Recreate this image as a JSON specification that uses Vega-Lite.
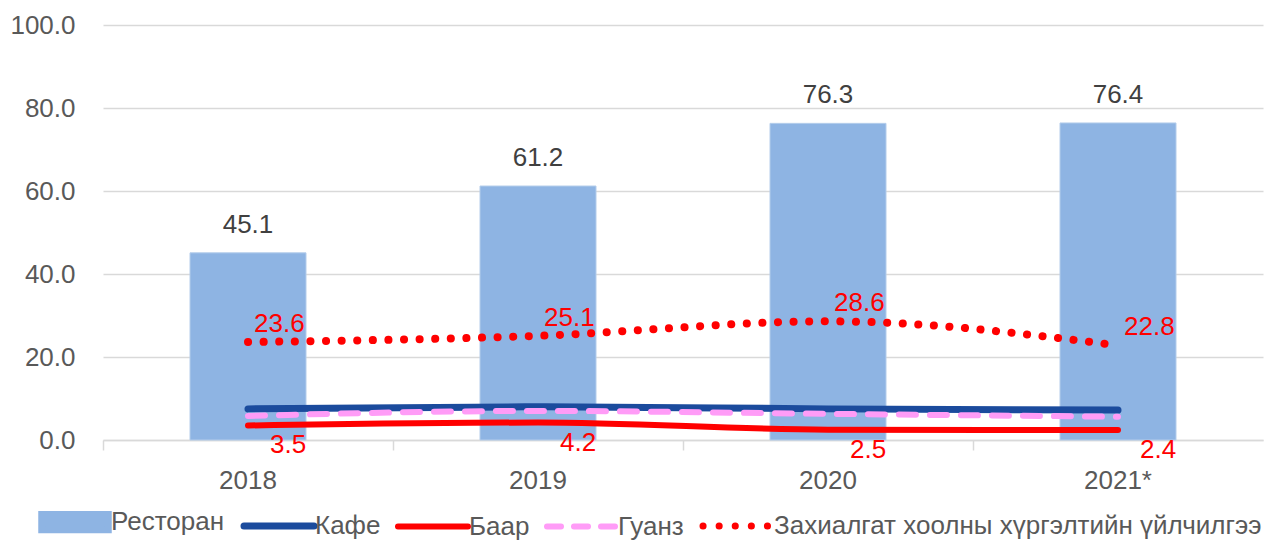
{
  "$schema": "https://vega.github.io/schema/vega-lite/v6.json",
  "autosize": "none",
  "width": 1160,
  "height": 415,
  "padding": {"left": 103, "top": 25, "right": 12, "bottom": 100},
  "background": "white",
  "config": {
    "view": {"stroke": null},
    "font": "Liberation Sans"
  },
  "data": {
    "values": [
      {"year": "2018", "series": "Ресторан", "value": 45.1},
      {"year": "2019", "series": "Ресторан", "value": 61.2},
      {"year": "2020", "series": "Ресторан", "value": 76.3},
      {"year": "2021*", "series": "Ресторан", "value": 76.4},
      {"year": "2018", "series": "Кафе", "value": 7.5},
      {"year": "2019", "series": "Кафе", "value": 8.0},
      {"year": "2020", "series": "Кафе", "value": 7.5},
      {"year": "2021*", "series": "Кафе", "value": 7.2},
      {"year": "2018", "series": "Баар", "value": 3.5},
      {"year": "2019", "series": "Баар", "value": 4.2},
      {"year": "2020", "series": "Баар", "value": 2.5},
      {"year": "2021*", "series": "Баар", "value": 2.4},
      {"year": "2018", "series": "Гуанз", "value": 5.8},
      {"year": "2019", "series": "Гуанз", "value": 7.0},
      {"year": "2020", "series": "Гуанз", "value": 6.3},
      {"year": "2021*", "series": "Гуанз", "value": 5.6},
      {"year": "2018", "series": "Захиалгат хоолны хүргэлтийн үйлчилгээ", "value": 23.6},
      {"year": "2019", "series": "Захиалгат хоолны хүргэлтийн үйлчилгээ", "value": 25.1},
      {"year": "2020", "series": "Захиалгат хоолны хүргэлтийн үйлчилгээ", "value": 28.6},
      {"year": "2021*", "series": "Захиалгат хоолны хүргэлтийн үйлчилгээ", "value": 22.8}
    ]
  },
  "encoding": {
    "x": {
      "field": "year",
      "type": "ordinal",
      "sort": ["2018", "2019", "2020", "2021*"],
      "scale": {"paddingInner": 0, "paddingOuter": 0},
      "axis": {
        "title": null,
        "labelAngle": 0,
        "labelFont": "Liberation Sans",
        "labelFontSize": 26,
        "labelColor": "#595959",
        "labelPadding": 17,
        "domainColor": "#D9D9D9",
        "domainWidth": 1.5,
        "tickColor": "#D9D9D9",
        "tickWidth": 1.5,
        "tickSize": 10,
        "bandPosition": 0,
        "grid": false
      }
    },
    "y": {
      "field": "value",
      "type": "quantitative",
      "scale": {"domain": [0, 100], "nice": false},
      "axis": {
        "title": null,
        "values": [0, 20, 40, 60, 80, 100],
        "format": ".1f",
        "labelFont": "Liberation Sans",
        "labelFontSize": 26,
        "labelColor": "#595959",
        "labelPadding": 28,
        "domain": false,
        "ticks": false,
        "gridColor": "#D9D9D9",
        "gridWidth": 1.5
      }
    },
    "color": {
      "field": "series",
      "type": "nominal",
      "scale": {
        "domain": ["Ресторан", "Кафе", "Баар", "Гуанз", "Захиалгат хоолны хүргэлтийн үйлчилгээ"],
        "range": ["#8EB4E3", "#1B4B9D", "#FF0000", "#FF9CF7", "#FF0000"]
      },
      "legend": {
        "title": null,
        "orient": "none",
        "legendX": -41,
        "legendY": 484,
        "direction": "horizontal",
        "columns": 5,
        "symbolType": "stroke",
        "symbolSize": 4900,
        "symbolStrokeWidth": 6,
        "labelFont": "Liberation Sans",
        "labelFontSize": 26,
        "labelColor": "#595959",
        "labelLimit": 700,
        "labelOffset": 23,
        "columnPadding": 5,
        "encode": {
          "symbols": {
            "update": {
              "shape": {"signal": "datum.value === 'Ресторан' ? 'M-0.95,-0.22H0.95V0.22H-0.95Z' : 'stroke'"},
              "fill": {"signal": "datum.value === 'Ресторан' ? '#8EB4E3' : 'transparent'"},
              "stroke": {"signal": "datum.value === 'Ресторан' ? 'transparent' : scale('color', datum.value)"},
              "strokeDash": {"signal": "datum.value === 'Гуанз' ? [14, 13] : (datum.value === 'Ресторан' || datum.value === 'Кафе' || datum.value === 'Баар') ? [1, 0] : [0.1, 16]"},
              "strokeCap": {"value": "round"},
              "strokeWidth": {"signal": "datum.value === 'Кафе' || datum.value === 'Ресторан' ? 7 : (datum.value === 'Баар' || datum.value === 'Гуанз') ? 6 : 7"},
              "opacity": {"value": 1}
            }
          }
        }
      }
    }
  },
  "layer": [
    {
      "transform": [{"filter": "datum.series === 'Ресторан'"}],
      "mark": {"type": "bar", "width": {"band": 0.4}, "stroke": "#B4CDEB", "strokeWidth": 1}
    },
    {
      "transform": [{"filter": "datum.series === 'Ресторан'"}],
      "mark": {"type": "text", "dy": -20, "baseline": "alphabetic", "font": "Liberation Sans", "fontSize": 26, "color": "#404040"},
      "encoding": {"text": {"field": "value", "format": ".1f"}, "color": {"value": "#404040"}}
    },
    {
      "transform": [{"filter": "datum.series === 'Кафе'"}],
      "mark": {"type": "line", "interpolate": "monotone", "strokeWidth": 7, "strokeCap": "round"}
    },
    {
      "transform": [{"filter": "datum.series === 'Баар'"}],
      "mark": {"type": "line", "interpolate": "monotone", "strokeWidth": 6, "strokeCap": "round"}
    },
    {
      "transform": [{"filter": "datum.series === 'Гуанз'"}],
      "mark": {"type": "line", "interpolate": "monotone", "strokeWidth": 6, "strokeCap": "round", "strokeDash": [17, 14]}
    },
    {
      "transform": [{"filter": "datum.series === 'Захиалгат хоолны хүргэлтийн үйлчилгээ'"}],
      "mark": {"type": "line", "interpolate": "monotone", "strokeWidth": 8, "strokeCap": "round", "strokeDash": [0.1, 15.5]}
    },
    {
      "transform": [{"filter": "datum.series === 'Захиалгат хоолны хүргэлтийн үйлчилгээ'"}],
      "mark": {"type": "text", "align": "left", "dx": 6, "dy": -10, "baseline": "alphabetic", "font": "Liberation Sans", "fontSize": 26},
      "encoding": {"text": {"field": "value", "format": ".1f"}, "color": {"value": "#FF0000"}}
    },
    {
      "transform": [{"filter": "datum.series === 'Баар'"}],
      "mark": {"type": "text", "align": "left", "dx": 22, "dy": 28, "baseline": "alphabetic", "font": "Liberation Sans", "fontSize": 26},
      "encoding": {"text": {"field": "value", "format": ".1f"}, "color": {"value": "#FF0000"}}
    }
  ]
}
